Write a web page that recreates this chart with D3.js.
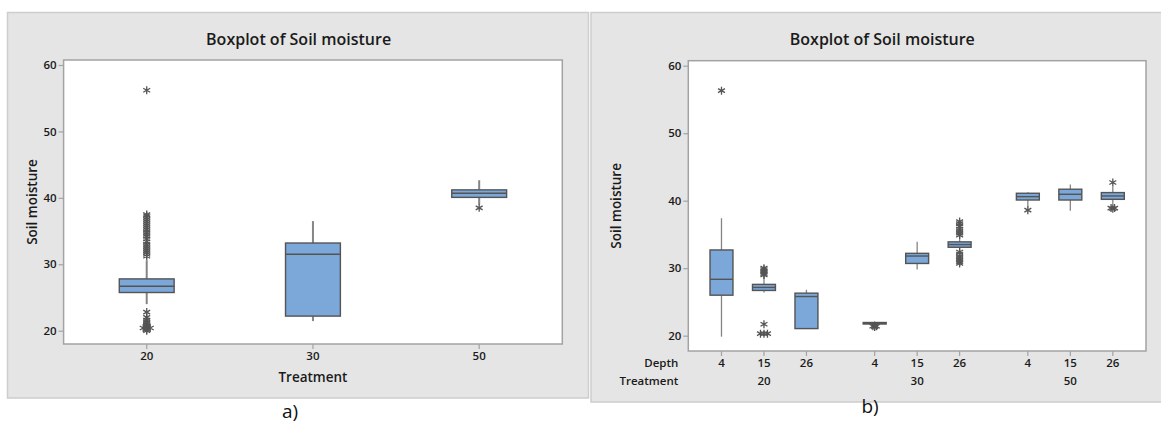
<!DOCTYPE html>
<html>
<head>
<meta charset="utf-8">
<script src="https://cdn.jsdelivr.net/npm/d3@7"></script>
<style>
  html, body { margin: 0; padding: 0; background: #ffffff; }
  svg { display: block; }
  text { font-family: "Open Sans", "Noto Sans", sans-serif; }
</style>
</head>
<body>
<svg id="chart" width="1161" height="446"></svg>
<script>
// ---------------- DATA ----------------
const yTicks = [20, 30, 40, 50, 60];

// Panel a) : by Treatment
const treatmentsA = ["20", "30", "50"];
const q1A     = [25.75, 22.2, 40.07];
const medianA = [26.7, 31.5, 40.7];
const q3A     = [27.8, 33.2, 41.2];
const whiskLoA = [24.0, 21.45, 39.0];
const whiskHiA = [30.6, 36.5, 42.65];
const outliersA = [
  [31.2, 31.5, 31.8, 32.1, 32.4, 32.7, 33.0, 33.4, 33.8, 34.2, 34.5, 34.8, 35.2, 35.5, 35.8, 36.1, 36.4, 36.7, 37.0, 37.3, 37.5, 56.2,
   22.8, 22.0, 21.6, 21.3, 21.0, 20.8, 20.6, 20.4, 20.4, 20.4, 20.2, 20.0],
  [],
  [38.5]
];

// Panel b) : by Depth within Treatment
const treatmentsB = ["20", "30", "50"];
const depths = ["4", "15", "26"];
const q1B     = [26.0, 26.7, 21.05, 21.8, 30.7, 33.1, 40.1, 40.1, 40.2];
const medianB = [28.35, 27.15, 25.8, 21.9, 31.8, 33.5, 40.6, 40.95, 40.7];
const q3B     = [32.7, 27.6, 26.3, 21.95, 32.2, 33.9, 41.1, 41.7, 41.2];
const whiskLoB = [19.85, 26.4, 21.05, 21.7, 29.8, 32.7, 39.0, 38.5, 39.35];
const whiskHiB = [37.4, 28.75, 26.8, 22.0, 33.9, 34.6, 41.25, 42.4, 42.1];
const outliersB = [
  [56.3],
  [29.0, 29.2, 29.4, 29.6, 29.8, 30.0, 21.7, 20.3, 20.3, 20.3],
  [],
  [21.3, 21.4, 21.4, 21.5],
  [],
  [34.9, 35.2, 35.5, 35.8, 36.2, 36.6, 36.9, 32.4, 32.1, 31.8, 31.5, 31.2, 30.9, 30.7],
  [38.6],
  [],
  [42.7, 38.9, 38.9, 38.8]
];

// ---------------- STYLE ----------------
const panelFill = "#e5e5e5";
const panelStroke = "#cdcdcd";
const plotStroke = "#a3a3a3";
const boxFill = "#7ba7d9";
const boxStroke = "#545454";
const whiskerColor = "#858585";
const starColor = "#555555";
const textColor = "#1a1a1a";

const svg = d3.select("#chart");

function starPath(r) {
  const a = r * 0.866, b = r * 0.5;
  return `M0,${-r}L0,${r}M${-a},${-b}L${a},${b}M${-a},${b}L${a},${-b}`;
}

function drawOutliers(g, values, cx, y) {
  const counts = {};
  values.forEach(v => counts[v] = (counts[v] || 0) + 1);
  const seen = {};
  values.forEach(v => {
    const k = counts[v];
    const i = seen[v] = (seen[v] === undefined ? 0 : seen[v] + 1);
    const dx = (i - (k - 1) / 2) * 3.5;
    g.append("path")
      .attr("d", starPath(4))
      .attr("transform", `translate(${cx + dx},${y(v)})`)
      .attr("stroke", starColor)
      .attr("stroke-width", 1.3)
      .attr("fill", "none");
  });
}

function drawBox(g, cx, w, y, q1, med, q3, lo, hi, outs, whiskW) {
  g.append("line").attr("x1", cx).attr("x2", cx).attr("y1", y(q3)).attr("y2", y(hi))
    .attr("stroke", whiskerColor).attr("stroke-width", whiskW);
  g.append("line").attr("x1", cx).attr("x2", cx).attr("y1", y(q1)).attr("y2", y(lo))
    .attr("stroke", whiskerColor).attr("stroke-width", whiskW);
  const top = y(q3), bot = y(q1);
  g.append("rect").attr("x", cx - w / 2).attr("y", top)
    .attr("width", w).attr("height", Math.max(bot - top, 1.5))
    .attr("fill", boxFill).attr("stroke", boxStroke).attr("stroke-width", 1.4);
  g.append("line").attr("x1", cx - w / 2).attr("x2", cx + w / 2).attr("y1", y(med)).attr("y2", y(med))
    .attr("stroke", boxStroke).attr("stroke-width", 1.4);
  drawOutliers(g, outs, cx, y);
}

function drawYAxis(g, y, x0, label, labelX) {
  const ax = g.append("g").attr("transform", `translate(${x0},0)`)
    .call(d3.axisLeft(y).tickValues(yTicks).tickSize(5).tickPadding(2).tickFormat(d3.format("d")));
  ax.select(".domain").remove();
  ax.selectAll(".tick line").attr("stroke", plotStroke).attr("stroke-width", 1.2);
  ax.selectAll(".tick text").attr("fill", textColor)
    .style("font-size", "11.5px").style("font-weight", 600).style("font-family", "'Open Sans', sans-serif");
  const yc = (y.range()[0] + y.range()[1]) / 2;
  g.append("text").attr("transform", `translate(${labelX},${yc}) rotate(-90)`)
    .attr("text-anchor", "middle").attr("dominant-baseline", "central")
    .attr("fill", textColor).style("font-size", "13.5px").style("font-weight", 600)
    .text(label);
}

// ---------------- PANEL A ----------------
(function () {
  const g = svg.append("g");
  g.append("rect").attr("x", 7.5).attr("y", 12.5).attr("width", 581).attr("height", 385.5)
    .attr("fill", panelFill).attr("stroke", panelStroke).attr("stroke-width", 1.5);

  const left = 63.6, right = 562.3, top = 60, bottom = 344;
  const x = d3.scaleBand().domain(treatmentsA).range([left, right]).padding(0);
  const y = d3.scaleLinear().domain([18.0, 60.75]).range([bottom, top]);

  g.append("rect").attr("x", left).attr("y", top).attr("width", right - left).attr("height", bottom - top)
    .attr("fill", "#ffffff").attr("stroke", plotStroke).attr("stroke-width", 1.5);

  g.append("text").attr("x", 298.6).attr("y", 39).attr("text-anchor", "middle")
    .attr("dominant-baseline", "central").attr("fill", textColor)
    .style("font-size", "16px").style("font-weight", 600).text("Boxplot of Soil moisture");

  drawYAxis(g, y, left, "Soil moisture", 32);

  const xa = g.append("g").attr("transform", `translate(0,${bottom})`)
    .call(d3.axisBottom(x).tickSize(5).tickPadding(3));
  xa.select(".domain").remove();
  xa.selectAll(".tick line").attr("stroke", plotStroke).attr("stroke-width", 1.2);
  xa.selectAll(".tick text").attr("fill", textColor)
    .style("font-size", "11.5px").style("font-weight", 600).style("font-family", "'Open Sans', sans-serif");

  g.append("text").attr("x", (left + right) / 2).attr("y", 377).attr("text-anchor", "middle")
    .attr("dominant-baseline", "central").attr("fill", textColor)
    .style("font-size", "13.5px").style("font-weight", 600).text("Treatment");

  const bw = x.bandwidth() * 0.33;
  treatmentsA.forEach((t, i) => {
    const cx = x(t) + x.bandwidth() / 2;
    drawBox(g, cx, bw, y, q1A[i], medianA[i], q3A[i], whiskLoA[i], whiskHiA[i], outliersA[i], 2);
  });

  svg.append("text").attr("x", 290).attr("y", 411).attr("text-anchor", "middle")
    .attr("dominant-baseline", "central").attr("fill", "#111")
    .style("font-size", "19px").style("font-family", "'Open Sans', sans-serif").text("a)");
})();

// ---------------- PANEL B ----------------
(function () {
  const g = svg.append("g");
  g.append("rect").attr("x", 591).attr("y", 12.5).attr("width", 575).attr("height", 389.5)
    .attr("fill", panelFill).attr("stroke", panelStroke).attr("stroke-width", 1.5);

  const left = 688.3, right = 1146, top = 60.7, bottom = 351;
  const outer = d3.scaleBand().domain(treatmentsB).range([left, right]).paddingInner(0.168).paddingOuter(0.078);
  const inner = d3.scaleBand().domain(depths).range([0, outer.bandwidth()]).padding(0);
  const y = d3.scaleLinear().domain([17.73, 60.74]).range([bottom, top]);

  g.append("rect").attr("x", left).attr("y", top).attr("width", right - left).attr("height", bottom - top)
    .attr("fill", "#ffffff").attr("stroke", plotStroke).attr("stroke-width", 1.5);

  g.append("text").attr("x", 882.3).attr("y", 39).attr("text-anchor", "middle")
    .attr("dominant-baseline", "central").attr("fill", textColor)
    .style("font-size", "16px").style("font-weight", 600).text("Boxplot of Soil moisture");

  drawYAxis(g, y, left, "Soil moisture", 616);

  const cells = [];
  treatmentsB.forEach(t => depths.forEach(d => cells.push({ t, d, cx: outer(t) + inner(d) + inner.bandwidth() / 2 })));

  // depth ticks
  g.selectAll(".dtick").data(cells).enter().append("line")
    .attr("x1", c => c.cx).attr("x2", c => c.cx).attr("y1", bottom).attr("y2", bottom + 5)
    .attr("stroke", plotStroke).attr("stroke-width", 1.2);
  g.selectAll(".dlab").data(cells).enter().append("text")
    .attr("x", c => c.cx).attr("y", 362.3).attr("text-anchor", "middle").attr("dominant-baseline", "central")
    .attr("fill", textColor).style("font-size", "11.5px").style("font-weight", 600).text(c => c.d);
  g.selectAll(".tlab").data(treatmentsB).enter().append("text")
    .attr("x", t => outer(t) + outer.bandwidth() / 2).attr("y", 380.3).attr("text-anchor", "middle")
    .attr("dominant-baseline", "central").attr("fill", textColor)
    .style("font-size", "11.5px").style("font-weight", 600).text(t => t);

  g.append("text").attr("x", 678.3).attr("y", 362.3).attr("text-anchor", "end").attr("dominant-baseline", "central")
    .attr("fill", textColor).style("font-size", "11.5px").style("font-weight", 600).text("Depth");
  g.append("text").attr("x", 678.3).attr("y", 380.3).attr("text-anchor", "end").attr("dominant-baseline", "central")
    .attr("fill", textColor).style("font-size", "11.5px").style("font-weight", 600).text("Treatment");

  const bw = inner.bandwidth() * 0.54;
  cells.forEach((c, i) => {
    drawBox(g, c.cx, bw, y, q1B[i], medianB[i], q3B[i], whiskLoB[i], whiskHiB[i], outliersB[i], 1.3);
  });

  svg.append("text").attr("x", 870).attr("y", 406).attr("text-anchor", "middle")
    .attr("dominant-baseline", "central").attr("fill", "#111")
    .style("font-size", "19px").style("font-family", "'Open Sans', sans-serif").text("b)");
})();
</script>
</body>
</html>
